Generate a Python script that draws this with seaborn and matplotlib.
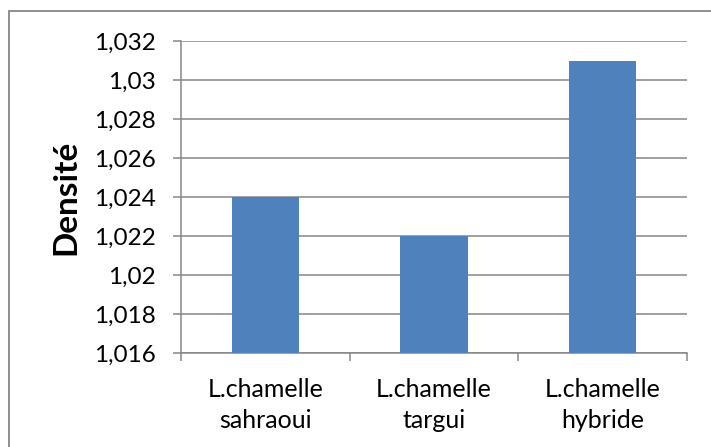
import matplotlib
matplotlib.use("Agg")
import matplotlib.pyplot as plt
import seaborn as sns
import pandas as pd
from matplotlib.patches import Rectangle

categories = ["L.chamelle\nsahraoui", "L.chamelle\ntargui", "L.chamelle\nhybride"]
densite = [1.024, 1.022, 1.031]
y_ticks = [1.016, 1.018, 1.020, 1.022, 1.024, 1.026, 1.028, 1.030, 1.032]
y_tick_labels = ["1,016", "1,018", "1,02", "1,022", "1,024", "1,026", "1,028", "1,03", "1,032"]
y_label = "Densité"

sns.set_theme(style="white")
plt.rcParams['font.family'] = ['Lato', 'DejaVu Sans']

W, H = 711, 447
fig = plt.figure(figsize=(W / 100, H / 100), dpi=100)
ax = fig.add_axes([181 / W, 1 - 353 / H, (687 - 181) / W, (353 - 41) / H])

df = pd.DataFrame({"cat": categories, "val": densite})
sns.barplot(data=df, x="cat", y="val", color="#4F81BD", width=0.4, saturation=1,
            linewidth=0, edgecolor="none", ax=ax, zorder=3)

grid_c = "#868686"
ax.set_ylim(1.016, 1.032)
ax.set_xlim(-0.5, 2.5)
ax.set_yticks(y_ticks)
ax.set_yticklabels(y_tick_labels)
ax.yaxis.grid(True, color=grid_c, linewidth=1.1, zorder=0)
ax.set_axisbelow(True)

ax.set_xticks([-0.5, 0.5, 1.5, 2.5])
ax.set_xticklabels([])
ax.set_xticks([0, 1, 2], minor=True)
ax.set_xticklabels(categories, minor=True, fontsize=18, color="#000000", linespacing=1.4)
ax.tick_params(axis="x", which="major", length=6, width=1.1, color=grid_c, direction="out", bottom=True)
ax.tick_params(axis="x", which="minor", length=0, pad=18)
ax.tick_params(axis="y", length=6, width=1.1, color=grid_c, direction="out", left=True, labelsize=17.5, pad=12, labelcolor="#000000")

for s in ["top", "right"]:
    ax.spines[s].set_visible(False)
for s in ["left", "bottom"]:
    ax.spines[s].set_color(grid_c)
    ax.spines[s].set_linewidth(1.1)

ax.set_xlabel("")
ax.set_ylabel(y_label, fontsize=24, fontweight="bold", color="#000000")
ax.yaxis.set_label_coords((80 - 181) / (687 - 181), 0.5)

fig.patches.append(Rectangle((9 / W, -0.1), 2.0, (1 - 11 / H) + 0.1, transform=fig.transFigure,
                             fill=False, edgecolor="#868686", linewidth=1.3))

fig.savefig("out.png", dpi=100)
